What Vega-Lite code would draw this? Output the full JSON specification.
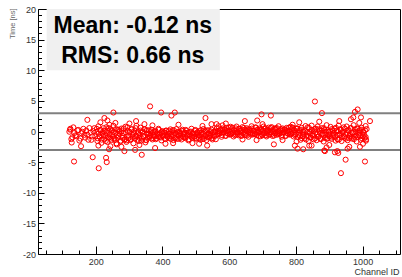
{
 "$schema": "https://vega.github.io/schema/vega-lite/v6.json",
 "width": 362, "height": 245,
 "autosize": "none",
 "padding": {"left": 38, "top": 9, "right": 2, "bottom": 23},
 "background": "white",
 "config": {"view": {"stroke": "#000", "strokeWidth": 1}},
 "datasets": {
  "lines": [{"t": 3}, {"t": -3}],
  "pts": [
   {"ch":121,"t":-0.04},{"ch":127,"t":-1.24},{"ch":133,"t":0.68},{"ch":139,"t":-0.64},{"ch":145,"t":0.2},{"ch":151,"t":-1.48},{"ch":157,"t":-0.28},{"ch":163,"t":0.44},{"ch":169,"t":-1.0},{"ch":175,"t":-0.52},{"ch":181,"t":0.56},{"ch":187,"t":-1.36},{"ch":193,"t":0.08},{"ch":199,"t":-0.76},
   {"ch":202,"t":-0.05},{"ch":205,"t":-1.55},{"ch":208,"t":0.85},{"ch":211,"t":-0.8},{"ch":214,"t":0.25},{"ch":217,"t":-1.85},{"ch":220,"t":-0.35},{"ch":223,"t":0.55},{"ch":226,"t":-1.25},{"ch":229,"t":-0.65},{"ch":232,"t":0.7},{"ch":235,"t":-1.7},{"ch":238,"t":0.1},{"ch":241,"t":-0.95},{"ch":244,"t":0.4},{"ch":247,"t":-1.4},{"ch":250,"t":-0.5},{"ch":253,"t":0.93},{"ch":256,"t":-1.1},{"ch":259,"t":-0.2},{"ch":262,"t":-1.93},{"ch":265,"t":0.33},{"ch":268,"t":-0.73},{"ch":271,"t":0.03},{"ch":274,"t":-1.63},{"ch":277,"t":0.48},{"ch":280,"t":-1.03},{"ch":283,"t":-0.28},{"ch":286,"t":-1.33},{"ch":289,"t":0.78},
   {"ch":292,"t":-1.7},{"ch":295,"t":0.7},{"ch":298,"t":-1.1},{"ch":301,"t":-0.05},{"ch":304,"t":-1.4},{"ch":307,"t":0.4},{"ch":310,"t":-0.5},{"ch":313,"t":-1.93},{"ch":316,"t":0.1},{"ch":319,"t":-0.8},{"ch":322,"t":0.93},{"ch":325,"t":-1.33},{"ch":328,"t":-0.28},{"ch":331,"t":-1.03},{"ch":334,"t":0.63},{"ch":337,"t":-1.48},{"ch":340,"t":0.03},{"ch":343,"t":-0.73},{"ch":346,"t":0.33},{"ch":349,"t":-1.78},
   {"ch":352,"t":-1.4},{"ch":355,"t":-0.4},{"ch":358,"t":0.2},{"ch":361,"t":-1.0},{"ch":364,"t":-0.6},{"ch":367,"t":0.3},{"ch":370,"t":-1.3},{"ch":373,"t":-0.1},{"ch":376,"t":-0.8},{"ch":379,"t":0.1},{"ch":382,"t":-1.1},{"ch":385,"t":-0.5},{"ch":388,"t":0.45},{"ch":391,"t":-0.9},{"ch":394,"t":-0.3},{"ch":397,"t":-1.45},{"ch":400,"t":0.05},{"ch":403,"t":-0.65},{"ch":406,"t":-0.15},{"ch":409,"t":-1.25},{"ch":412,"t":0.15},{"ch":415,"t":-0.85},{"ch":418,"t":-0.35},{"ch":421,"t":-1.05},{"ch":424,"t":0.35},
   {"ch":427,"t":-0.8},{"ch":430,"t":0.2},{"ch":433,"t":-1.4},{"ch":436,"t":-0.3},{"ch":439,"t":-1.0},{"ch":442,"t":0.4},{"ch":445,"t":-0.6},{"ch":448,"t":-1.2},{"ch":451,"t":0.0},{"ch":454,"t":-0.4},{"ch":457,"t":-1.3},{"ch":460,"t":0.3},{"ch":463,"t":-0.9},{"ch":466,"t":-0.2},{"ch":469,"t":-1.1},{"ch":472,"t":0.1},{"ch":475,"t":-0.5},{"ch":478,"t":-1.45},{"ch":481,"t":-0.1},{"ch":484,"t":-0.7},{"ch":487,"t":0.45},{"ch":490,"t":-1.05},{"ch":493,"t":-0.35},{"ch":496,"t":-0.85},{"ch":499,"t":0.25},{"ch":502,"t":-1.15},{"ch":505,"t":-0.15},{"ch":508,"t":-0.65},{"ch":511,"t":0.05},{"ch":514,"t":-1.35},
   {"ch":517,"t":-0.2},{"ch":520,"t":-1.2},{"ch":523,"t":0.4},{"ch":526,"t":-0.7},{"ch":529,"t":0.0},{"ch":532,"t":-1.4},{"ch":535,"t":-0.4},{"ch":538,"t":0.2},{"ch":541,"t":-1.0},{"ch":544,"t":-0.6},{"ch":547,"t":0.3},{"ch":550,"t":-1.3},{"ch":553,"t":-0.1},{"ch":556,"t":-0.8},{"ch":559,"t":0.1},
   {"ch":562,"t":-0.54},{"ch":565,"t":0.0},{"ch":568,"t":0.86},{"ch":571,"t":-0.36},{"ch":574,"t":0.18},{"ch":577,"t":-0.86},{"ch":580,"t":0.5},{"ch":583,"t":-0.14},{"ch":586,"t":0.32},{"ch":589,"t":-0.68},{"ch":592,"t":0.59},{"ch":595,"t":-0.32},{"ch":598,"t":0.14},{"ch":601,"t":-0.5},{"ch":604,"t":0.77},
   {"ch":607,"t":-0.27},{"ch":610,"t":0.63},{"ch":613,"t":-0.81},{"ch":616,"t":0.18},{"ch":619,"t":-0.45},{"ch":622,"t":0.81},{"ch":625,"t":-0.09},{"ch":628,"t":-0.63},{"ch":631,"t":0.45},{"ch":634,"t":0.09},{"ch":637,"t":-0.72},{"ch":640,"t":0.72},{"ch":643,"t":-0.36},{"ch":646,"t":0.27},{"ch":649,"t":-0.54},{"ch":652,"t":0.54},{"ch":655,"t":0.0},{"ch":658,"t":-0.86},{"ch":661,"t":0.36},{"ch":664,"t":-0.18},{"ch":667,"t":0.86},{"ch":670,"t":-0.5},{"ch":673,"t":0.14},{"ch":676,"t":-0.32},{"ch":679,"t":0.68},{"ch":682,"t":-0.59},{"ch":685,"t":0.32},{"ch":688,"t":-0.14},{"ch":691,"t":0.5},{"ch":694,"t":-0.77},
   {"ch":697,"t":0.27},{"ch":700,"t":-0.63},{"ch":703,"t":0.81},{"ch":706,"t":-0.18},{"ch":709,"t":0.45},{"ch":712,"t":-0.81},{"ch":715,"t":0.09},{"ch":718,"t":0.63},{"ch":721,"t":-0.45},{"ch":724,"t":-0.09},{"ch":727,"t":0.72},{"ch":730,"t":-0.72},{"ch":733,"t":0.36},{"ch":736,"t":-0.27},{"ch":739,"t":0.54},{"ch":742,"t":-0.54},{"ch":745,"t":0.0},{"ch":748,"t":0.86},{"ch":751,"t":-0.36},{"ch":754,"t":0.18},{"ch":757,"t":-0.86},{"ch":760,"t":0.5},{"ch":763,"t":-0.14},{"ch":766,"t":0.32},{"ch":769,"t":-0.68},{"ch":772,"t":0.59},{"ch":775,"t":-0.32},{"ch":778,"t":0.14},{"ch":781,"t":-0.5},{"ch":784,"t":0.77},
   {"ch":787,"t":-0.27},{"ch":790,"t":0.63},{"ch":793,"t":-0.81},{"ch":796,"t":0.18},{"ch":799,"t":-0.45},
   {"ch":802,"t":-1.63},{"ch":805,"t":0.47},{"ch":808,"t":-0.51},{"ch":811,"t":0.19},{"ch":814,"t":-1.35},{"ch":817,"t":0.61},{"ch":820,"t":-0.79},{"ch":823,"t":-0.09},{"ch":826,"t":-1.07},{"ch":829,"t":0.89},
   {"ch":832,"t":-0.72},{"ch":835,"t":0.68},{"ch":838,"t":-1.56},{"ch":841,"t":-0.02},{"ch":844,"t":-1.0},{"ch":847,"t":0.96},{"ch":850,"t":-0.44},{"ch":853,"t":-1.28},{"ch":856,"t":0.4},{"ch":859,"t":-0.16},{"ch":862,"t":-1.42},{"ch":865,"t":0.82},{"ch":868,"t":-0.86},{"ch":871,"t":0.12},{"ch":874,"t":-1.14},{"ch":877,"t":0.54},{"ch":880,"t":-0.3},{"ch":883,"t":-1.63},{"ch":886,"t":0.26},{"ch":889,"t":-0.58},{"ch":892,"t":1.03},{"ch":895,"t":-1.07},{"ch":898,"t":-0.09},{"ch":901,"t":-0.79},{"ch":904,"t":0.75},{"ch":907,"t":-1.21},{"ch":910,"t":0.19},{"ch":913,"t":-0.51},{"ch":916,"t":0.47},{"ch":919,"t":-1.49},
   {"ch":922,"t":0.12},{"ch":925,"t":-1.28},{"ch":928,"t":0.96},{"ch":931,"t":-0.58},{"ch":934,"t":0.4},{"ch":937,"t":-1.56},{"ch":940,"t":-0.16},{"ch":943,"t":0.68},{"ch":946,"t":-1.0},{"ch":949,"t":-0.44},{"ch":952,"t":0.82},{"ch":955,"t":-1.42},{"ch":958,"t":0.26},{"ch":961,"t":-0.72},{"ch":964,"t":0.54},{"ch":967,"t":-1.14},{"ch":970,"t":-0.3},{"ch":973,"t":1.03},{"ch":976,"t":-0.86},{"ch":979,"t":-0.02},{"ch":982,"t":-1.63},{"ch":985,"t":0.47},{"ch":988,"t":-0.51},{"ch":991,"t":0.19},{"ch":994,"t":-1.35},{"ch":997,"t":0.61},{"ch":1000,"t":-0.79},{"ch":1003,"t":-0.09},{"ch":1006,"t":-1.07},{"ch":1009,"t":0.89},
   {"ch":124,"t":0.45},{"ch":130,"t":-0.95},{"ch":136,"t":-0.25},{"ch":142,"t":-0.75},{"ch":148,"t":0.25},{"ch":154,"t":-1.15},{"ch":160,"t":-0.05},{"ch":166,"t":-0.55},{"ch":172,"t":0.15},{"ch":178,"t":-1.35},{"ch":184,"t":-0.2},{"ch":190,"t":-0.8},{"ch":196,"t":0.55},
   {"ch":203,"t":0.44},{"ch":206,"t":-1.1},{"ch":209,"t":-0.33},{"ch":212,"t":-0.89},{"ch":215,"t":0.22},{"ch":218,"t":-1.33},{"ch":221,"t":-0.12},{"ch":224,"t":-0.67},{"ch":227,"t":0.11},{"ch":230,"t":-1.55},{"ch":233,"t":-0.28},{"ch":236,"t":-0.94},{"ch":239,"t":0.55},{"ch":242,"t":-0.5},{"ch":245,"t":-1.16},{"ch":248,"t":0.16},{"ch":251,"t":-0.83},{"ch":254,"t":-0.06},{"ch":257,"t":-1.38},{"ch":260,"t":0.38},{"ch":263,"t":-0.61},{"ch":266,"t":-1.05},{"ch":269,"t":0.27},{"ch":272,"t":-0.39},{"ch":275,"t":-1.49},{"ch":278,"t":0.05},{"ch":281,"t":-0.72},{"ch":284,"t":0.49},{"ch":287,"t":-1.27},{"ch":290,"t":-0.17},
   {"ch":293,"t":-1.44},{"ch":296,"t":0.1},{"ch":299,"t":-0.67},{"ch":302,"t":-0.12},{"ch":305,"t":-1.22},{"ch":308,"t":0.33},{"ch":311,"t":-0.89},{"ch":314,"t":-0.34},{"ch":317,"t":-1.11},{"ch":320,"t":0.55},{"ch":323,"t":-0.72},{"ch":326,"t":-0.06},{"ch":329,"t":-1.55},{"ch":332,"t":-0.5},{"ch":335,"t":0.16},{"ch":338,"t":-1.16},{"ch":341,"t":-0.17},{"ch":344,"t":-0.94},{"ch":347,"t":0.38},{"ch":350,"t":-1.38},
   {"ch":353,"t":0.18},{"ch":356,"t":-0.94},{"ch":359,"t":-0.38},{"ch":362,"t":-0.78},{"ch":365,"t":0.02},{"ch":368,"t":-1.1},{"ch":371,"t":-0.22},{"ch":374,"t":-0.62},{"ch":377,"t":-0.06},{"ch":380,"t":-1.26},{"ch":383,"t":-0.34},{"ch":386,"t":-0.82},{"ch":389,"t":0.26},{"ch":392,"t":-0.5},{"ch":395,"t":-0.98},{"ch":398,"t":-0.02},{"ch":401,"t":-0.74},{"ch":404,"t":-0.18},{"ch":407,"t":-1.14},{"ch":410,"t":0.14},{"ch":413,"t":-0.58},{"ch":416,"t":-0.9},{"ch":419,"t":0.06},{"ch":422,"t":-0.42},{"ch":425,"t":-1.22},{"ch":428,"t":-0.1},{"ch":431,"t":-0.66},{"ch":434,"t":0.22},{"ch":437,"t":-1.06},{"ch":440,"t":-0.26},
   {"ch":443,"t":-1.18},{"ch":446,"t":-0.06},{"ch":449,"t":-0.62},{"ch":452,"t":-0.22},{"ch":455,"t":-1.02},{"ch":458,"t":0.1},{"ch":461,"t":-0.78},{"ch":464,"t":-0.38},{"ch":467,"t":-0.94},{"ch":470,"t":0.26},{"ch":473,"t":-0.66},{"ch":476,"t":-0.18},{"ch":479,"t":-1.26},{"ch":482,"t":-0.5},{"ch":485,"t":-0.02},{"ch":488,"t":-0.98},{"ch":491,"t":-0.26},{"ch":494,"t":-0.82},{"ch":497,"t":0.14},{"ch":500,"t":-1.14},{"ch":503,"t":-0.42},{"ch":506,"t":-0.1},{"ch":509,"t":-1.06},{"ch":512,"t":-0.58},{"ch":515,"t":0.22},{"ch":518,"t":-0.9},{"ch":521,"t":-0.34},{"ch":524,"t":-1.22},{"ch":527,"t":0.06},{"ch":530,"t":-0.74},
   {"ch":533,"t":0.18},{"ch":536,"t":-0.94},{"ch":539,"t":-0.38},{"ch":542,"t":-0.78},{"ch":545,"t":0.02},{"ch":548,"t":-1.1},{"ch":551,"t":-0.22},{"ch":554,"t":-0.62},{"ch":557,"t":-0.06},{"ch":560,"t":-1.26},
   {"ch":563,"t":0.55},{"ch":566,"t":-0.44},{"ch":569,"t":0.06},{"ch":572,"t":-0.3},{"ch":575,"t":0.41},{"ch":578,"t":-0.58},{"ch":581,"t":0.2},{"ch":584,"t":-0.16},{"ch":587,"t":0.34},{"ch":590,"t":-0.72},{"ch":593,"t":0.09},{"ch":596,"t":-0.33},{"ch":599,"t":0.62},{"ch":602,"t":-0.05},{"ch":605,"t":-0.47},{"ch":608,"t":0.37},{"ch":611,"t":-0.26},{"ch":614,"t":0.23},{"ch":617,"t":-0.61},{"ch":620,"t":0.51},{"ch":623,"t":-0.12},{"ch":626,"t":-0.4},{"ch":629,"t":0.44},{"ch":632,"t":0.02},{"ch":635,"t":-0.68},{"ch":638,"t":0.3},{"ch":641,"t":-0.19},{"ch":644,"t":0.58},{"ch":647,"t":-0.54},{"ch":650,"t":0.16},
   {"ch":653,"t":-0.65},{"ch":656,"t":0.34},{"ch":659,"t":-0.16},{"ch":662,"t":0.2},{"ch":665,"t":-0.51},{"ch":668,"t":0.48},{"ch":671,"t":-0.3},{"ch":674,"t":0.06},{"ch":677,"t":-0.44},{"ch":680,"t":0.62},{"ch":683,"t":-0.19},{"ch":686,"t":0.23},{"ch":689,"t":-0.72},{"ch":692,"t":-0.05},{"ch":695,"t":0.37},{"ch":698,"t":-0.47},{"ch":701,"t":0.16},{"ch":704,"t":-0.33},{"ch":707,"t":0.51},{"ch":710,"t":-0.61},{"ch":713,"t":0.02},{"ch":716,"t":0.3},{"ch":719,"t":-0.54},{"ch":722,"t":-0.12},{"ch":725,"t":0.58},{"ch":728,"t":-0.4},{"ch":731,"t":0.09},{"ch":734,"t":-0.68},{"ch":737,"t":0.44},{"ch":740,"t":-0.26},
   {"ch":743,"t":0.55},{"ch":746,"t":-0.44},{"ch":749,"t":0.06},{"ch":752,"t":-0.3},{"ch":755,"t":0.41},{"ch":758,"t":-0.58},{"ch":761,"t":0.2},{"ch":764,"t":-0.16},{"ch":767,"t":0.34},{"ch":770,"t":-0.72},{"ch":773,"t":0.09},{"ch":776,"t":-0.33},{"ch":779,"t":0.62},{"ch":782,"t":-0.05},{"ch":785,"t":-0.47},{"ch":788,"t":0.37},{"ch":791,"t":-0.26},{"ch":794,"t":0.23},{"ch":797,"t":-0.61},{"ch":800,"t":0.51},
   {"ch":803,"t":0.5},{"ch":806,"t":-0.9},{"ch":809,"t":-0.2},{"ch":812,"t":-0.7},{"ch":815,"t":0.3},{"ch":818,"t":-1.1},{"ch":821,"t":0.0},{"ch":824,"t":-0.5},{"ch":827,"t":0.2},{"ch":830,"t":-1.3},{"ch":833,"t":-0.15},{"ch":836,"t":-0.75},{"ch":839,"t":0.6},{"ch":842,"t":-0.35},{"ch":845,"t":-0.95},{"ch":848,"t":0.25},{"ch":851,"t":-0.65},{"ch":854,"t":0.05},{"ch":857,"t":-1.15},{"ch":860,"t":0.45},{"ch":863,"t":-0.45},{"ch":866,"t":-0.85},{"ch":869,"t":0.35},{"ch":872,"t":-0.25},{"ch":875,"t":-1.25},{"ch":878,"t":0.15},{"ch":881,"t":-0.55},{"ch":884,"t":0.55},{"ch":887,"t":-1.05},{"ch":890,"t":-0.05},
   {"ch":893,"t":-1.2},{"ch":896,"t":0.2},{"ch":899,"t":-0.5},{"ch":902,"t":0.0},{"ch":905,"t":-1.0},{"ch":908,"t":0.4},{"ch":911,"t":-0.7},{"ch":914,"t":-0.2},{"ch":917,"t":-0.9},{"ch":920,"t":0.6},{"ch":923,"t":-0.55},{"ch":926,"t":0.05},{"ch":929,"t":-1.3},{"ch":932,"t":-0.35},{"ch":935,"t":0.25},{"ch":938,"t":-0.95},{"ch":941,"t":-0.05},{"ch":944,"t":-0.75},{"ch":947,"t":0.45},{"ch":950,"t":-1.15},{"ch":953,"t":-0.25},{"ch":956,"t":0.15},{"ch":959,"t":-1.05},{"ch":962,"t":-0.45},{"ch":965,"t":0.55},{"ch":968,"t":-0.85},{"ch":971,"t":-0.15},{"ch":974,"t":-1.25},{"ch":977,"t":0.35},{"ch":980,"t":-0.65},
   {"ch":983,"t":0.5},{"ch":986,"t":-0.9},{"ch":989,"t":-0.2},{"ch":992,"t":-0.7},{"ch":995,"t":0.3},{"ch":998,"t":-1.1},{"ch":1001,"t":0.0},{"ch":1004,"t":-0.5},{"ch":1007,"t":0.2},{"ch":1010,"t":-1.3},
   {"ch":208,"t":-2.3},{"ch":214,"t":1.5},{"ch":244,"t":-2.4},{"ch":259,"t":1.4},{"ch":277,"t":-2.5},{"ch":301,"t":1.3},{"ch":331,"t":-2.2},{"ch":346,"t":1.2},{"ch":370,"t":1.0},{"ch":409,"t":-2.0},{"ch":448,"t":1.1},{"ch":490,"t":-1.9},{"ch":520,"t":0.9},{"ch":590,"t":1.3},{"ch":640,"t":-1.3},{"ch":700,"t":1.2},{"ch":760,"t":-1.4},{"ch":790,"t":1.1},{"ch":810,"t":1.5},{"ch":840,"t":-2.3},{"ch":870,"t":1.6},{"ch":900,"t":-2.2},{"ch":930,"t":1.7},{"ch":960,"t":-2.5},{"ch":990,"t":1.4},{"ch":1001,"t":-2.0},{"ch":965,"t":2.0},{"ch":955,"t":-2.8},
   {"ch":123,"t":0.3},{"ch":128,"t":-1.8},{"ch":135,"t":-4.9},{"ch":156,"t":-2.4},{"ch":175,"t":1.9},{"ch":191,"t":-4.2},{"ch":209,"t":-6.0},{"ch":226,"t":2.2},{"ch":231,"t":-4.3},{"ch":233,"t":-5.0},{"ch":235,"t":1.8},{"ch":240,"t":-2.9},{"ch":241,"t":1.1},{"ch":253,"t":3.1},{"ch":263,"t":-2.1},{"ch":286,"t":-3.2},{"ch":318,"t":-3.0},{"ch":321,"t":1.7},{"ch":338,"t":-3.8},{"ch":363,"t":4.1},{"ch":378,"t":-2.7},{"ch":396,"t":3.1},{"ch":427,"t":2.6},{"ch":432,"t":-1.9},{"ch":437,"t":3.1},{"ch":510,"t":-2.0},{"ch":529,"t":2.2},{"ch":534,"t":-2.3},{"ch":547,"t":1.2},{"ch":562,"t":1.2},{"ch":580,"t":1.0},{"ch":647,"t":1.7},{"ch":682,"t":-1.4},{"ch":684,"t":1.8},{"ch":697,"t":2.8},{"ch":725,"t":2.6},{"ch":734,"t":-2.1},{"ch":797,"t":-2.3},{"ch":805,"t":-2.8},{"ch":822,"t":-2.9},{"ch":847,"t":-2.3},{"ch":857,"t":4.9},{"ch":878,"t":3.0},{"ch":885,"t":-3.1},{"ch":887,"t":-3.2},{"ch":892,"t":-2.6},{"ch":917,"t":-3.4},{"ch":924,"t":-3.2},{"ch":927,"t":-3.5},{"ch":935,"t":-6.8},{"ch":949,"t":-4.6},{"ch":972,"t":2.3},{"ch":977,"t":3.2},{"ch":985,"t":3.6},{"ch":992,"t":-2.5},{"ch":995,"t":2.3},{"ch":1007,"t":-4.9},{"ch":1009,"t":-0.9},{"ch":1010,"t":-1.5},{"ch":1012,"t":0.4},{"ch":1022,"t":1.7}
  ]
 },
 "resolve": {"axis": {"x": "independent", "y": "independent"}},
 "layer": [
  {
   "data": {"values": [{}]},
   "mark": {"type": "rect", "color": "#f0f0f0"},
   "encoding": {
    "x": {"datum": 53, "type": "quantitative", "axis": null, "scale": {"domain": [27, 1112], "nice": false, "zero": false}},
    "x2": {"datum": 572},
    "y": {"datum": 10.0, "type": "quantitative", "axis": null, "scale": {"domain": [-20, 20], "nice": false, "zero": false}},
    "y2": {"datum": 20}
   }
  },
  {
   "data": {"name": "lines"},
   "mark": {"type": "rule", "color": "#808080", "strokeWidth": 2},
   "encoding": {"y": {"field": "t", "type": "quantitative", "axis": null}}
  },
  {
   "data": {"name": "pts"},
   "mark": {"type": "point", "shape": "circle", "filled": false, "color": "#ff0000", "strokeWidth": 1, "size": 26, "opacity": 1},
   "encoding": {
    "x": {"field": "ch", "type": "quantitative",
     "scale": {"domain": [27, 1112], "nice": false, "zero": false},
     "axis": {
      "orient": "bottom",
      "title": "Channel ID",
      "values": [200,400,600,800,1000],
      "labelExpr": "'' + datum.value",
      "tickSize": -8,
      "labelPadding": 11,
      "domain": false, "grid": false,
      "tickColor": "#000", "tickWidth": 1,
      "labelFont": "Liberation Sans", "labelFontSize": 9, "labelColor": "#333",
      "labelOverlap": false, "labelFlush": false,
      "titleFont": "Liberation Sans", "titleFontSize": 9, "titleFontWeight": "normal", "titleColor": "#333",
      "titleAlign": "right", "titleBaseline": "alphabetic", "titleX": 361, "titleY": 20
     }
    },
    "y": {"field": "t", "type": "quantitative",
     "scale": {"domain": [-20, 20], "nice": false, "zero": false},
     "axis": {
      "orient": "left",
      "title": "Time [ns]",
      "values": [-20,-15,-10,-5,0,5,10,15,20],
      "labelExpr": "'' + datum.value",
      "tickSize": -6,
      "labelPadding": 8.5,
      "domain": false, "grid": false,
      "tickColor": "#000", "tickWidth": 1,
      "labelFont": "Liberation Sans", "labelFontSize": 9, "labelColor": "#333",
      "labelOverlap": false, "labelFlush": false,
      "titleFont": "Liberation Sans", "titleFontSize": 7.5, "titleFontWeight": "normal", "titleColor": "#666",
      "titleAngle": 270, "titleAlign": "right", "titleBaseline": "bottom", "titleX": -22, "titleY": -1
     }
    }
   }
  },
  {
   "data": {"name": "lines"},
   "mark": {"type": "rule", "opacity": 0},
   "encoding": {
    "x": {"field": "t", "type": "quantitative",
     "axis": {
      "orient": "bottom",
      "title": null,
      "values": [50,100,150,250,300,350,450,500,550,650,700,750,850,900,950,1050,1100],
      "labels": false,
      "tickSize": -4,
      "domain": false, "grid": false,
      "tickColor": "#000", "tickWidth": 1
     }
    },
    "y": {"field": "t", "type": "quantitative",
     "axis": {
      "orient": "left",
      "title": null,
      "values": [-19,-18,-17,-16,-14,-13,-12,-11,-9,-8,-7,-6,-4,-3,-2,-1,1,2,3,4,6,7,8,9,11,12,13,14,16,17,18,19],
      "labels": false,
      "tickSize": -3.5,
      "domain": false, "grid": false,
      "tickColor": "#000", "tickWidth": 1
     }
    }
   }
  },
  {
   "data": {"values": [{}]},
   "mark": {"type": "text", "font": "Liberation Sans", "fontWeight": "bold", "fontSize": 23, "align": "center", "baseline": "alphabetic", "color": "#000"},
   "encoding": {
    "x": {"datum": 311, "type": "quantitative", "axis": null},
    "y": {"datum": 16.03, "type": "quantitative", "axis": null},
    "text": {"value": "Mean: -0.12 ns"}
   }
  },
  {
   "data": {"values": [{}]},
   "mark": {"type": "text", "font": "Liberation Sans", "fontWeight": "bold", "fontSize": 23, "align": "center", "baseline": "alphabetic", "color": "#000"},
   "encoding": {
    "x": {"datum": 311, "type": "quantitative", "axis": null},
    "y": {"datum": 11.13, "type": "quantitative", "axis": null},
    "text": {"value": "RMS: 0.66 ns"}
   }
  }
 ]
}
